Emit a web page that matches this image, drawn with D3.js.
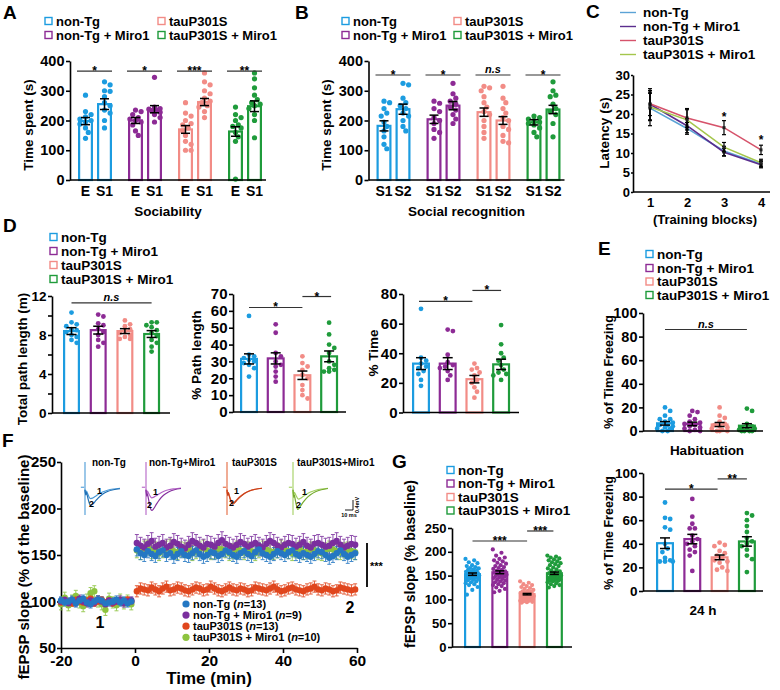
<!DOCTYPE html>
<html><head><meta charset="utf-8">
<script src="https://cdn.jsdelivr.net/npm/d3@7"></script>
<style>
body{margin:0;background:#fff;}
svg{font-family:"Liberation Sans",Arial,sans-serif;font-weight:bold;}
</style></head><body>
<svg id="fig" width="780" height="690"></svg>
<script>
// ---------------- DATA ----------------
const groups = ["non-Tg", "non-Tg + Miro1", "tauP301S", "tauP301S + Miro1"];
const barColors = ["#1c9ce0", "#8d2b95", "#f28c86", "#1f9b3b"];

// Panel A (Sociability)
const aConds = ["E", "S1"];
const aMeans = [[198, 255], [200, 238], [170, 262], [163, 248]];
const aSems = [[12, 18], [10, 12], [13, 12], [16, 18]];
const aPoints = [
  [[285, 230, 220, 212, 205, 200, 195, 188, 175, 160, 140], [330, 320, 300, 298, 280, 260, 250, 235, 225, 200, 175]],
  [[235, 230, 220, 210, 205, 200, 195, 185, 165, 150], [345, 245, 240, 238, 235, 232, 228, 220, 210, 195]],
  [[260, 225, 215, 200, 190, 185, 175, 165, 150, 130, 120, 100, 100], [360, 330, 320, 300, 290, 275, 265, 260, 250, 245, 230, 210]],
  [[245, 220, 210, 200, 185, 180, 175, 160, 145, 130, 3], [360, 340, 310, 285, 270, 260, 255, 250, 240, 220, 200, 142]]
];
const aSig = ["*", "*", "***", "**"];

// Panel B (Social recognition)
const bConds = ["S1", "S2"];
const bMeans = [[182, 238], [204, 250], [228, 200], [194, 237]];
const bSems = [[17, 17], [14, 14], [14, 13], [9, 14]];
const bPoints = [
  [[265, 260, 240, 225, 215, 195, 180, 165, 145, 120, 105], [325, 320, 275, 260, 250, 240, 225, 215, 200, 180, 165]],
  [[265, 258, 240, 230, 210, 200, 190, 170, 160, 140], [325, 290, 275, 265, 255, 245, 235, 220, 205, 190]],
  [[315, 310, 300, 280, 260, 245, 230, 220, 200, 180, 160, 140], [315, 275, 260, 240, 225, 210, 200, 180, 170, 150, 130, 125]],
  [[215, 210, 205, 200, 195, 190, 185, 175, 160, 145], [330, 300, 285, 280, 255, 240, 230, 220, 190, 145]]
];
const bSig = ["*", "*", "n.s", "*"];

// Panel C (Latency)
const cBlocks = [1, 2, 3, 4];
const cColors = ["#5ba3d6", "#5b2d8e", "#d6536b", "#a4c64c"];
const cMeans = [
  [21.5, 16.3, 10.5, 7.2],
  [22.5, 17.0, 10.2, 7.0],
  [22.6, 19.0, 16.5, 10.8],
  [21.8, 18.5, 11.5, 7.5]
];
const cSems = [
  [4.5, 1.5, 1.2, 0.8],
  [4.0, 1.8, 1.0, 0.8],
  [3.0, 2.4, 1.8, 1.2],
  [3.5, 2.6, 1.2, 0.9]
];

// Panel D
const d1Means = [8.4, 8.5, 8.4, 8.1];
const d1Sems = [0.35, 0.4, 0.25, 0.35];
const d1Points = [
  [10.3, 9.3, 9.1, 8.9, 8.6, 8.5, 8.3, 8.0, 7.8, 7.5, 7.2],
  [10.1, 9.9, 9.2, 9.0, 8.6, 8.3, 8.0, 7.5, 7.2, 6.8],
  [9.5, 9.1, 8.9, 8.6, 8.4, 8.2, 8.0, 7.8, 7.6, 7.6],
  [9.3, 9.3, 9.0, 8.8, 8.5, 8.2, 7.9, 7.5, 7.2, 6.8, 6.3]
];
const d2Means = [31.5, 31.8, 21.8, 33];
const d2Sems = [3, 3.3, 2.5, 3.2];
const d2Points = [
  [57, 34, 33, 32, 31, 30, 29, 28, 26, 21],
  [52, 47, 35, 33, 30, 28, 27, 24, 21, 18],
  [33, 29, 27, 25, 22, 20, 16, 13, 10, 8],
  [53, 46, 40, 38, 35, 30, 28, 26, 25, 24, 24]
];
const d3Means = [33, 33, 22.5, 32.5];
const d3Sems = [4, 4, 2.5, 3.5];
const d3Points = [
  [70, 37, 35, 33, 31, 30, 28, 26, 22, 18],
  [56, 55, 39, 34, 32, 31, 30, 28, 25, 22],
  [33, 30, 29, 27, 25, 22, 20, 17, 14, 10],
  [59, 46, 40, 37, 35, 32, 29, 27, 26, 25, 22]
];

// Panel E (fear conditioning)
const e1Means = [6.5, 6, 5.5, 4.5];
const e1Sems = [1.5, 1.5, 1.7, 1.7];
const e1Points = [
  [20, 17, 13, 10, 10, 8, 7, 5, 5, 4, 3, 2, 2, 0, 0],
  [17, 16, 13, 10, 8, 7, 6, 5, 4, 3, 2, 1, 0, 0],
  [20, 13, 11, 8, 6, 5, 4, 3, 2, 1, 0, 0, 0],
  [19, 17, 6, 4, 3, 2, 2, 1, 0, 0, 0, 0]
];
const e2Means = [40.5, 44, 28.5, 42];
const e2Sems = [4.5, 4, 2, 4];
const e2Points = [
  [75, 62, 61, 54, 52, 40, 36, 33, 28, 26, 25, 25, 25],
  [78, 63, 57, 53, 53, 47, 44, 42, 40, 38, 35, 33, 30, 17],
  [41, 39, 38, 34, 32, 30, 28, 26, 25, 24, 20, 18, 17],
  [66, 64, 60, 55, 50, 45, 42, 40, 38, 35, 30, 27, 16]
];

// Panel F (LTP time course)
const fColors = ["#2477c3", "#7b2f9e", "#e0461d", "#8dc43f"];
const fN = [13, 9, 13, 10];
const fBaseTimes = d3.range(-20, 0, 1);
const fPostTimes = d3.range(0.5, 60, 1);
const fBase = [
  [101, 99, 100, 102, 98, 101, 103, 99, 97, 100, 102, 101, 98, 99, 100, 102, 99, 101, 98, 100],
  [100, 102, 98, 101, 99, 103, 100, 98, 101, 99, 102, 100, 97, 101, 99, 100, 102, 98, 100, 101],
  [99, 101, 100, 98, 102, 100, 99, 101, 103, 98, 100, 102, 99, 101, 98, 100, 101, 99, 102, 100],
  [97, 104, 96, 101, 106, 99, 95, 102, 109, 111, 100, 97, 91, 103, 99, 96, 102, 98, 101, 97]
];
const fPost = [
  [156,152,150,154,151,149,153,155,150,152, 148,151,154,150,149,152,155,151,148,150,
   153,152,149,151,155,153,150,148,152,154, 151,149,153,156,152,150,148,151,154,152,
   150,153,155,151,149,152,150,148,151,154, 153,150,147,149,152,155,151,148,150,152],
  [163,160,158,162,165,159,161,163,158,160, 164,162,159,157,161,165,163,160,158,162,
   161,159,163,166,162,160,158,161,164,162, 159,161,163,160,158,162,165,163,160,158,
   161,163,162,159,161,164,160,158,162,163, 161,159,160,163,165,161,158,160,162,161],
  [111,114,113,112,115,113,111,114,116,112, 113,115,114,112,111,113,115,114,112,113,
   116,114,112,111,113,115,113,112,114,113, 111,112,115,114,113,112,114,116,113,111,
   112,114,115,113,112,111,113,114,116,113, 112,114,113,111,112,115,114,113,112,113],
  [155,153,157,158,154,156,152,155,157,159, 154,153,156,155,157,152,154,156,158,155,
   153,154,157,156,155,152,154,157,155,153, 156,154,152,155,157,156,154,153,155,158,
   156,154,152,155,157,153,154,156,155,153, 152,155,157,156,154,153,155,156,154,153]
];
const fSemBase = [4, 4, 3, 6];
const fSemPost = [7, 9, 6, 8];

// F insets (representative fEPSP traces, ms / mV)
const insetNames = ["non-Tg", "non-Tg+Miro1", "tauP301S", "tauP301S+Miro1"];
const insetMs = [0, 0.8, 1.6, 2.5, 4, 5.5, 7, 9, 12, 16, 21, 27, 34, 42];
const insetTrace1 = [
  [-0.1, -0.25, -0.15, -0.2, -0.32, -0.42, -0.45, -0.43, -0.37, -0.28, -0.19, -0.12, -0.07, -0.04],
  [-0.1, -0.25, -0.15, -0.2, -0.3, -0.38, -0.42, -0.4, -0.34, -0.26, -0.17, -0.1, -0.06, -0.03],
  [-0.1, -0.3, -0.2, -0.3, -0.45, -0.58, -0.62, -0.58, -0.48, -0.36, -0.24, -0.14, -0.08, -0.04],
  [-0.1, -0.3, -0.2, -0.25, -0.35, -0.44, -0.47, -0.44, -0.37, -0.28, -0.19, -0.12, -0.07, -0.04]
];
const insetTrace2 = [
  [-0.1, -0.3, -0.2, -0.3, -0.5, -0.66, -0.72, -0.68, -0.57, -0.42, -0.28, -0.17, -0.1, -0.06],
  [-0.1, -0.35, -0.25, -0.38, -0.65, -0.85, -0.92, -0.86, -0.7, -0.5, -0.32, -0.19, -0.1, -0.05],
  [-0.1, -0.32, -0.22, -0.32, -0.5, -0.62, -0.67, -0.62, -0.51, -0.38, -0.25, -0.15, -0.08, -0.04],
  [-0.1, -0.4, -0.3, -0.45, -0.7, -0.88, -0.85, -0.75, -0.6, -0.44, -0.3, -0.18, -0.1, -0.05]
];
const insetColors1 = ["#4a9ad6", "#b463c6", "#e4683e", "#a2cf60"];
const insetColors2 = ["#1f6fb5", "#86309f", "#c83f18", "#76ab2e"];

// Panel G (mean fEPSP slope)
const gMeans = [153, 157, 111, 155];
const gSems = [2.5, 3, 1.5, 2.5];
const gPoints = [
  [185,182,178,176,172,170,168,166,165,163,162,160,159,158,157,156,155,154,153,152,151,150,150,149,148,147,146,145,144,143,141,140,138,136,134,132,130,126,120,110],
  [205,198,192,188,185,182,180,177,175,172,170,168,166,164,162,160,159,158,156,155,153,152,150,149,148,146,145,143,141,140,138,136,134,132,130,128,125,122,118,115],
  [138,135,132,130,128,126,124,122,120,118,117,116,115,114,113,112,111,110,109,108,108,107,106,105,105,104,103,103,102,101,100,100,99,98,97,97,96,95,94,93],
  [192,190,188,186,184,182,180,178,176,174,172,170,167,165,163,161,159,157,155,153,152,150,149,148,147,146,145,144,143,142,141,140,139,138,136,134,132,130,128,125]
];

// ---------------- HELPERS ----------------
const svg = d3.select("#fig");

function txt(x, y, s, size, o = {}) {
  const t = svg.append("text").attr("x", x).attr("y", y).text(s)
    .style("font-size", size + "px").attr("text-anchor", o.anchor || "start").attr("fill", o.fill || "#000");
  if (o.italic) t.style("font-style", "italic");
  if (o.rotate) t.attr("transform", `rotate(-90,${x},${y})`).attr("dominant-baseline", "central");
  return t;
}
function yAxis(scale, x, vals, labels, fs, tick = 4, pad = 1.5) {
  const g = svg.append("g").attr("transform", `translate(${x},0)`)
    .call(d3.axisLeft(scale).tickValues(vals).tickSize(tick).tickSizeOuter(0).tickPadding(pad)
      .tickFormat(d => labels.includes(d) ? String(d) : ""));
  g.attr("font-family", null).attr("font-size", null);
  g.select(".domain").attr("stroke", "#000").attr("stroke-width", 1.6);
  g.selectAll(".tick line").attr("stroke", "#000").attr("stroke-width", 1.6);
  g.selectAll(".tick text").style("font-size", fs + "px").attr("fill", "#000");
  return g;
}
function hline(x1, x2, y, w = 1.6, c = "#000") {
  svg.append("line").attr("x1", x1).attr("x2", x2).attr("y1", y).attr("y2", y).attr("stroke", c).attr("stroke-width", w);
}
function band(axisX, first, step, bw, n) {
  const pi = 1 - bw / step, po = (first - axisX) / step;
  return d3.scaleBand().domain(d3.range(n)).range([axisX, axisX + step * (n - pi + 2 * po)])
    .paddingInner(pi).paddingOuter(po);
}
function swarm(vals, y, cx, r, halfW) {
  const s = r + 0.2;
  const offs = [0];
  for (let k = 1; k * s <= halfW + 0.01; k++) offs.push(k * s, -k * s);
  const placed = [];
  vals.map(v => ({ v, py: y(v) })).sort((a, b) => a.py - b.py).forEach(p => {
    let best = cx, bestD = -1;
    for (const o of offs) {
      const px = cx + o;
      let md = Infinity;
      for (const q of placed) md = Math.min(md, Math.hypot(q.x - px, q.y - p.py));
      if (md >= 2 * r) { best = px; break; }
      if (md > bestD) { bestD = md; best = px; }
    }
    placed.push({ v: p.v, x: best, y: p.py });
  });
  return placed;
}
// bars: [{x, w, color, mean, sem, pts}]
function drawBars(bars, y, o) {
  const sw = o.sw || 2.2, r = o.r || 2.5;
  bars.forEach(b => {
    svg.append("rect").attr("x", b.x + sw / 2).attr("y", y(b.mean)).attr("width", b.w - sw)
      .attr("height", y(0) - y(b.mean)).attr("fill", "#fff").attr("stroke", b.color).attr("stroke-width", sw);
  });
  bars.forEach(b => {
    const cx = b.x + b.w / 2;
    let pts;
    if (o.jitter) {
      pts = b.pts.map((v, i) => ({ x: cx + (((i * 0.618034) % 1) - 0.5) * (b.w - 3), y: y(v) }));
    } else {
      pts = swarm(b.pts, y, cx, r, b.w / 2 - 1);
    }
    svg.append("g").selectAll("circle").data(pts).join("circle")
      .attr("cx", d => d.x).attr("cy", d => d.y).attr("r", r).attr("fill", b.color);
  });
  bars.forEach(b => {
    const cx = b.x + b.w / 2, cw = o.capW || b.w * 0.6;
    const g = svg.append("g").attr("stroke", "#000").attr("stroke-width", 1.5);
    g.append("line").attr("x1", cx).attr("x2", cx).attr("y1", y(b.mean - b.sem)).attr("y2", y(b.mean + b.sem));
    g.append("line").attr("x1", cx - cw / 2).attr("x2", cx + cw / 2).attr("y1", y(b.mean - b.sem)).attr("y2", y(b.mean - b.sem));
    g.append("line").attr("x1", cx - cw / 2).attr("x2", cx + cw / 2).attr("y1", y(b.mean + b.sem)).attr("y2", y(b.mean + b.sem));
  });
}
function sig(x1, x2, yy, label, fs = 11) {
  hline(x1, x2, yy, 1.2, "#333");
  if (label === "n.s") txt((x1 + x2) / 2, yy - 2, label, fs, { anchor: "middle", italic: true });
  else txt((x1 + x2) / 2, yy + 4, label, fs + 1, { anchor: "middle" });
}
function squareLegend(x, y, label, color, fs = 13.5) {
  svg.append("rect").attr("x", x).attr("y", y - 3.5).attr("width", 7).attr("height", 7)
    .attr("fill", "#fff").attr("stroke", color).attr("stroke-width", 1.4);
  txt(x + 11, y + 4.6, label, fs);
}

// ---------------- PANEL A & B ----------------
function pairedPanel(ox, conds, means, sems, points, sigs, title) {
  const y = d3.scaleLinear().domain([0, 400]).range([180, 61]);
  const outer = d3.scaleBand().domain(d3.range(4)).range([ox + 3, ox + 203]).padding(0);
  const inner = d3.scaleBand().domain(conds).range([5, 39]).paddingInner(4 / 19).paddingOuter(0);
  const bars = [];
  groups.forEach((g, gi) => conds.forEach((c, ci) => bars.push({
    x: outer(gi) + inner(c), w: inner.bandwidth(), color: barColors[gi],
    mean: means[gi][ci], sem: sems[gi][ci], pts: points[gi][ci], cond: c
  })));
  drawBars(bars, y, { r: 2.6, capW: 9 });
  yAxis(y, ox, [0, 100, 200, 300, 400], [0, 100, 200, 300, 400], 14.5);
  hline(ox, ox + 196, y(0));
  bars.forEach(b => txt(b.x + b.w / 2, 196, b.cond, 14, { anchor: "middle" }));
  groups.forEach((g, gi) => {
    const x1 = outer(gi) + inner(conds[0]), x2 = outer(gi) + inner(conds[1]) + inner.bandwidth();
    sig(x1 - 1, x2, y(ox < 200 ? 366 : 353), sigs[gi]);
  });
  txt(ox - 42, 125, "Time spent (s)", 13.5, { anchor: "middle", rotate: true });
  txt(ox + 98, 216, title, 13.5, { anchor: "middle" });
}
txt(3, 19, "A", 19);
squareLegend(45, 21, groups[0], barColors[0], 13);
squareLegend(45, 35, groups[1], barColors[1], 13);
squareLegend(158, 21, groups[2], barColors[2], 13);
squareLegend(158, 35, groups[3], barColors[3], 13);
pairedPanel(70, aConds, aMeans, aSems, aPoints, aSig, "Sociability");

txt(295, 19, "B", 19);
squareLegend(342, 21, groups[0], barColors[0], 13);
squareLegend(342, 35, groups[1], barColors[1], 13);
squareLegend(454, 21, groups[2], barColors[2], 13);
squareLegend(454, 35, groups[3], barColors[3], 13);
pairedPanel(368.5, bConds, bMeans, bSems, bPoints, bSig, "Social recognition");

// ---------------- PANEL C ----------------
txt(586, 18, "C", 19);
[12.5, 26.5, 40.5, 54.5].forEach((yy, i) => {
  hline(620, 636, yy, 1.4, cColors[i]);
  txt(643, yy + 4.7, groups[i], 13.5);
});
{
  const x = d3.scaleLinear().domain([1, 4]).range([650, 761]);
  const y = d3.scaleLinear().domain([0, 30]).range([192, 75]);
  yAxis(y, 633, [0, 5, 10, 15, 20, 25, 30], [0, 5, 10, 15, 20, 25, 30], 13, 2, 1);
  const gx = svg.append("g").attr("transform", "translate(0,192)")
    .call(d3.axisBottom(x).tickValues(cBlocks).tickSize(0).tickPadding(6).tickFormat(d => String(d)));
  gx.attr("font-family", null).attr("font-size", null);
  gx.select(".domain").remove();
  gx.selectAll(".tick text").style("font-size", "13px").attr("fill", "#000");
  hline(633, 770, 192);
  const line = d3.line().x((d, i) => x(cBlocks[i])).y(d => y(d));
  cMeans.forEach((m, i) => svg.append("path").attr("d", line(m)).attr("fill", "none")
    .attr("stroke", cColors[i]).attr("stroke-width", 1.6));
  cMeans.forEach((m, i) => m.forEach((v, j) => {
    const cx = x(cBlocks[j]), s = cSems[i][j];
    const g = svg.append("g").attr("stroke", "#000").attr("stroke-width", 1.2);
    g.append("line").attr("x1", cx).attr("x2", cx).attr("y1", y(v - s)).attr("y2", y(v + s));
    g.append("line").attr("x1", cx - 2).attr("x2", cx + 2).attr("y1", y(v - s)).attr("y2", y(v - s));
    g.append("line").attr("x1", cx - 2).attr("x2", cx + 2).attr("y1", y(v + s)).attr("y2", y(v + s));
    svg.append("rect").attr("x", cx - 1.5).attr("y", y(v) - 1.5).attr("width", 3).attr("height", 3).attr("fill", "#222");
  }));
  txt(x(3), y(19.2) + 4, "*", 12, { anchor: "middle" });
  txt(x(4), y(13.4) + 4, "*", 12, { anchor: "middle" });
  txt(604, 133, "Latency (s)", 13.5, { anchor: "middle", rotate: true });
  txt(705, 224, "(Training blocks)", 13, { anchor: "middle" });
}

// ---------------- PANEL D ----------------
txt(3, 232, "D", 19);
[237, 251, 265, 279].forEach((yy, i) => squareLegend(50, yy, groups[i], barColors[i]));
function fourBars(bd, y, means, sems, pts, o) {
  const bars = groups.map((g, i) => ({ x: bd(i), w: bd.bandwidth(), color: barColors[i], mean: means[i], sem: sems[i], pts: pts[i] }));
  drawBars(bars, y, o);
  return bars;
}
{
  const y = d3.scaleLinear().domain([0, 12]).range([413, 296]);
  const bd = band(52, 63, 26.7, 17, 4);
  fourBars(bd, y, d1Means, d1Sems, d1Points, { r: 2.4, capW: 10 });
  yAxis(y, 52, [0, 2, 4, 6, 8, 10, 12], [0, 4, 8, 12], 13.5);
  hline(52, 170, y(0));
  sig(bd(0) + bd.bandwidth() / 2, bd(3) + bd.bandwidth() / 2, y(11.3), "n.s");
  txt(22, 359, "Total path length (m)", 13.5, { anchor: "middle", rotate: true });
}
{
  const y = d3.scaleLinear().domain([0, 70]).range([412, 294]);
  const bd = band(233, 240, 26.7, 18, 4);
  fourBars(bd, y, d2Means, d2Sems, d2Points, { r: 2.4, capW: 10 });
  yAxis(y, 233, [0, 10, 20, 30, 40, 50, 60, 70], [0, 10, 20, 30, 40, 50, 60, 70], 15);
  hline(233, 346, y(0));
  const c = i => bd(i) + bd.bandwidth() / 2;
  sig(c(0), c(2), y(62), "*");
  sig(c(2), c(3) + 2, y(68.5), "*");
  txt(196, 355, "% Path length", 13.5, { anchor: "middle", rotate: true });
}
{
  const y = d3.scaleLinear().domain([0, 80]).range([412.5, 294]);
  const bd = band(403, 412, 26.7, 18, 4);
  fourBars(bd, y, d3Means, d3Sems, d3Points, { r: 2.4, capW: 10 });
  yAxis(y, 403, [0, 20, 40, 60, 80], [0, 20, 40, 60, 80], 15);
  hline(403, 519, y(0));
  const c = i => bd(i) + bd.bandwidth() / 2;
  sig(c(0) - 2, c(2) - 2, y(75), "*");
  sig(c(2) - 2, c(3), y(82.4), "*");
  txt(373, 353, "% Time", 13.5, { anchor: "middle", rotate: true });
}

// ---------------- PANEL E ----------------
txt(598, 255, "E", 19);
[254, 268, 281.5, 295].forEach((yy, i) => squareLegend(646, yy, groups[i], barColors[i]));
{
  const bd = band(643, 656, 27.3, 18, 4);
  const c = i => bd(i) + bd.bandwidth() / 2;
  const y1 = d3.scaleLinear().domain([0, 100]).range([431, 313]);
  fourBars(bd, y1, e1Means, e1Sems, e1Points, { r: 2.4, capW: 10 });
  yAxis(y1, 643, [0, 20, 40, 60, 80, 100], [0, 20, 40, 60, 80, 100], 14.5);
  hline(643, 763, y1(0));
  sig(c(0), c(3), y1(86), "n.s");
  txt(609, 372, "% of Time Freezing", 12.5, { anchor: "middle", rotate: true });
  txt(707, 455, "Habituation", 13.5, { anchor: "middle" });

  const y2 = d3.scaleLinear().domain([0, 100]).range([591, 473]);
  fourBars(bd, y2, e2Means, e2Sems, e2Points, { r: 2.4, capW: 10 });
  yAxis(y2, 643, [0, 20, 40, 60, 80, 100], [0, 20, 40, 60, 80, 100], 13.5);
  hline(643, 763, y2(0));
  sig(c(0), c(2) - 2, y2(86.4), "*");
  sig(c(2) - 2, c(3), y2(95), "**");
  txt(609, 533, "% of Time Freezing", 12.5, { anchor: "middle", rotate: true });
  txt(703, 615, "24 h", 13.5, { anchor: "middle" });
}

// ---------------- PANEL F ----------------
txt(2, 447, "F", 19);
{
  const x = d3.scaleLinear().domain([-20, 60]).range([61, 357]);
  const y = d3.scaleLinear().domain([50, 250]).range([648, 462]);
  yAxis(y, 61, [50, 100, 150, 200, 250], [50, 100, 150, 200, 250], 15, 4, 1);
  const gx = svg.append("g").attr("transform", "translate(0,648)")
    .call(d3.axisBottom(x).tickValues([-20, 0, 20, 40, 60]).tickSize(5).tickSizeOuter(0).tickPadding(2).tickFormat(d => String(d)));
  gx.attr("font-family", null).attr("font-size", null);
  gx.select(".domain").attr("stroke-width", 1.6);
  gx.selectAll(".tick line").attr("stroke-width", 1.6);
  gx.selectAll(".tick text").style("font-size", "15.5px").attr("fill", "#000");
  txt(23, 567, "fEPSP slope (% of the baseline)", 15, { anchor: "middle", rotate: true });
  txt(209, 684, "Time (min)", 17, { anchor: "middle" });

  const order = [3, 2, 1, 0];
  const series = i => fBaseTimes.map((t, k) => ({ t, v: fBase[i][k], s: fSemBase[i] }))
    .concat(fPostTimes.map((t, k) => ({ t, v: fPost[i][k], s: fSemPost[i] })));
  order.forEach(i => {
    const g = svg.append("g").attr("stroke", fColors[i]).attr("stroke-width", 1).attr("opacity", 0.85);
    series(i).forEach(d => {
      const cx = x(d.t);
      g.append("line").attr("x1", cx).attr("x2", cx).attr("y1", y(d.v - d.s)).attr("y2", y(d.v + d.s));
      g.append("line").attr("x1", cx - 2).attr("x2", cx + 2).attr("y1", y(d.v + d.s)).attr("y2", y(d.v + d.s));
      g.append("line").attr("x1", cx - 2).attr("x2", cx + 2).attr("y1", y(d.v - d.s)).attr("y2", y(d.v - d.s));
    });
  });
  order.forEach(i => {
    svg.append("g").selectAll("circle").data(series(i)).join("circle")
      .attr("cx", d => x(d.t)).attr("cy", d => y(d.v)).attr("r", 3.2).attr("fill", fColors[i]);
  });
  // legend
  fN.forEach((n, i) => {
    const yy = 604 + i * 11.1;
    svg.append("circle").attr("cx", 186).attr("cy", yy).attr("r", 3.6).attr("fill", fColors[i]);
    const t = svg.append("text").attr("x", 193).attr("y", yy + 4).style("font-size", "11px");
    t.append("tspan").text(groups[i] + " (");
    t.append("tspan").style("font-style", "italic").text("n");
    t.append("tspan").text("=" + n + ")");
  });
  txt(100, 628, "1", 16, { anchor: "middle" });
  txt(350, 613, "2", 16, { anchor: "middle" });
  svg.append("line").attr("x1", 367).attr("x2", 367).attr("y1", 543).attr("y2", 587).attr("stroke", "#000").attr("stroke-width", 1.8);
  txt(370, 570, "***", 11);

  // inset traces
  const anchors = [85, 146, 227, 293];
  const titleX = [92, 149, 232, 297];
  const lbl1 = [[12, 494], [7, 495], [7, 494], [9, 495]];
  const lbl2 = [[4, 507], [1, 508], [2, 506], [3, 508]];
  const ty = d3.scaleLinear().domain([-1.1, 1.0]).range([515, 462]);
  anchors.forEach((ax, i) => {
    const tx = d3.scaleLinear().domain([0, 42]).range([ax, ax + 35]);
    const ln = d3.line().x((d, k) => tx(insetMs[k])).y(d => ty(d)).curve(d3.curveMonotoneX);
    svg.append("line").attr("x1", tx(-5)).attr("x2", tx(-1)).attr("y1", ty(0)).attr("y2", ty(0)).attr("stroke", insetColors1[i]).attr("stroke-width", 1.1);
    svg.append("line").attr("x1", tx(0)).attr("x2", tx(0)).attr("y1", ty(1.0)).attr("y2", ty(-1.1)).attr("stroke", insetColors1[i]).attr("stroke-width", 1.1);
    svg.append("path").attr("d", ln(insetTrace1[i])).attr("fill", "none").attr("stroke", insetColors1[i]).attr("stroke-width", 1.2);
    svg.append("path").attr("d", ln(insetTrace2[i])).attr("fill", "none").attr("stroke", insetColors2[i]).attr("stroke-width", 1.2);
    txt(titleX[i], 466, insetNames[i], 10);
    txt(ax + lbl1[i][0], lbl1[i][1], "1", 9);
    txt(ax + lbl2[i][0], lbl2[i][1], "2", 9);
  });
  // scale bar
  const sx = d3.scaleLinear().domain([0, 10]).range([345, 353]);
  const sy = d3.scaleLinear().domain([0, 0.4]).range([510, 500]);
  svg.append("path").attr("d", `M${sx(0)},${sy(0)}H${sx(10)}V${sy(0.4)}`).attr("fill", "none").attr("stroke", "#000").attr("stroke-width", 0.9);
  txt(349, 517, "10 ms", 5.5, { anchor: "middle" });
  txt(357, 505, "0.4mV", 5.5, { anchor: "middle", rotate: true });
}

// ---------------- PANEL G ----------------
txt(392, 468, "G", 19);
[470, 483.5, 497, 510.5].forEach((yy, i) => squareLegend(447, yy, groups[i], barColors[i]));
{
  const y = d3.scaleLinear().domain([0, 250]).range([647, 528]);
  const bd = band(452, 464, 27.3, 17, 4);
  fourBars(bd, y, gMeans, gSems, gPoints, { r: 2.1, capW: 9, jitter: true });
  yAxis(y, 452, [0, 50, 100, 150, 200, 250], [0, 50, 100, 150, 200, 250], 13);
  hline(452, 572, y(0));
  const c = i => bd(i) + bd.bandwidth() / 2;
  sig(c(0), c(2), y(222.7), "***");
  sig(c(2), c(3) - 1, y(243.7), "***");
  txt(410, 564, "fEPSP slope (% baseline)", 14, { anchor: "middle", rotate: true });
}
</script>
</body></html>
